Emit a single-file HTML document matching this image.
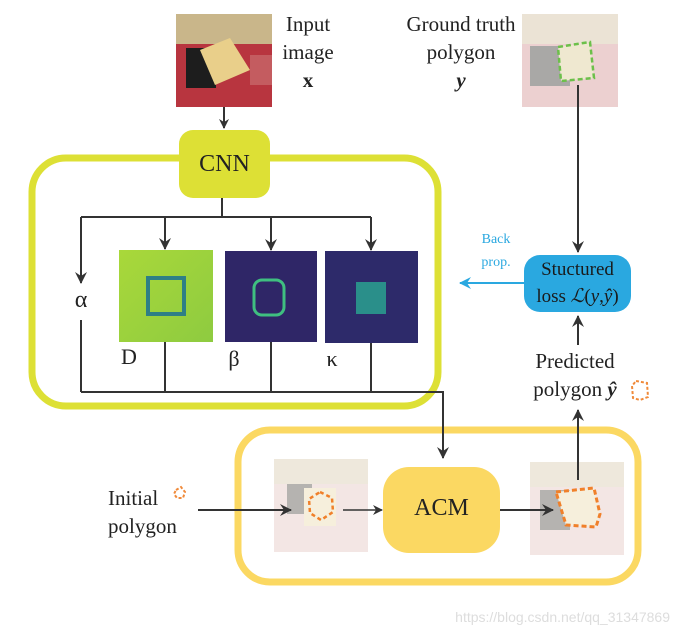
<!DOCTYPE html>
<html><head><meta charset="utf-8"><style>
html,body{margin:0;padding:0;background:#fff;}
body{width:676px;height:635px;position:relative;overflow:hidden;font-family:"Liberation Serif",serif;color:#222;}
.t{position:absolute;font-size:21px;line-height:28px;text-align:center;white-space:nowrap;}
</style></head><body>
<svg width="676" height="635" style="position:absolute;left:0;top:0">
<defs>
<marker id="a" markerWidth="10" markerHeight="10" refX="9" refY="5" orient="auto" markerUnits="userSpaceOnUse"><path d="M0,0 L10,5 L0,10 L3,5 z" fill="#333"/></marker>
<marker id="ab" markerWidth="12" markerHeight="12" refX="11" refY="6" orient="auto" markerUnits="userSpaceOnUse"><path d="M0,0 L12,6 L0,12 L4,6 z" fill="#333"/></marker>
<marker id="bl" markerWidth="12" markerHeight="12" refX="11" refY="6" orient="auto" markerUnits="userSpaceOnUse"><path d="M0,0 L12,6 L0,12 L4,6 z" fill="#2aa8e0"/></marker>
<linearGradient id="gD" x1="0" y1="0" x2="1" y2="1"><stop offset="0" stop-color="#a9d83a"/><stop offset="1" stop-color="#8ecb40"/></linearGradient>
</defs>
<!-- frames -->
<rect x="32" y="158" width="406" height="248" rx="34" fill="none" stroke="#dde035" stroke-width="7"/>
<rect x="238" y="430" width="400" height="152" rx="32" fill="none" stroke="#fbd862" stroke-width="7"/>
<!-- input image -->
<rect x="176" y="14" width="96" height="93" fill="#b8353f"/>
<rect x="176" y="14" width="96" height="30" fill="#c9b68a"/>
<rect x="186" y="48" width="30" height="40" fill="#1d1d1d"/>
<polygon points="200,50 230,38 250,70 215,85" fill="#e9cf8a"/>
<rect x="250" y="55" width="22" height="30" fill="#c77" opacity=".6"/>
<!-- GT image -->
<rect x="522" y="14" width="96" height="93" fill="#ecd0d0"/>
<rect x="522" y="14" width="96" height="30" fill="#ebe3d5"/>
<rect x="530" y="46" width="40" height="40" fill="#a9a8a6"/>
<polygon points="558,47 590,42 594,78 561,81" fill="#efe8d0" stroke="#6cc04a" stroke-width="2.5" stroke-dasharray="5,3"/>
<!-- CNN -->
<rect x="179" y="130" width="91" height="68" rx="14" fill="#dde035"/>
<line x1="224" y1="107" x2="224" y2="128" stroke="#333" stroke-width="2" marker-end="url(#a)"/>
<polyline points="222,198 222,217" fill="none" stroke="#333" stroke-width="2"/>
<polyline points="81,217 371,217" fill="none" stroke="#333" stroke-width="2"/>
<line x1="81" y1="217" x2="81" y2="283" stroke="#333" stroke-width="2" marker-end="url(#ab)"/>
<line x1="165" y1="217" x2="165" y2="249" stroke="#333" stroke-width="2" marker-end="url(#ab)"/>
<line x1="271" y1="217" x2="271" y2="250" stroke="#333" stroke-width="2" marker-end="url(#ab)"/>
<line x1="371" y1="217" x2="371" y2="250" stroke="#333" stroke-width="2" marker-end="url(#ab)"/>
<!-- maps -->
<rect x="119" y="250" width="94" height="92" fill="url(#gD)"/>
<rect x="148" y="278" width="36" height="36" fill="none" stroke="#2e7f86" stroke-width="4"/>
<rect x="225" y="251" width="92" height="91" fill="#2f2667"/>
<rect x="254" y="280" width="30" height="35" rx="8" fill="none" stroke="#3fbf80" stroke-width="3"/>
<rect x="325" y="251" width="93" height="92" fill="#2d2a6a"/>
<rect x="356" y="282" width="30" height="32" fill="#2a8f8a"/>
<!-- bottom bus -->
<line x1="81" y1="320" x2="81" y2="392" stroke="#333" stroke-width="2"/>
<line x1="165" y1="342" x2="165" y2="392" stroke="#333" stroke-width="2"/>
<line x1="271" y1="342" x2="271" y2="392" stroke="#333" stroke-width="2"/>
<line x1="371" y1="343" x2="371" y2="392" stroke="#333" stroke-width="2"/>
<polyline points="81,392 443,392 443,458" fill="none" stroke="#333" stroke-width="2" marker-end="url(#ab)"/>
<!-- GT to loss -->
<line x1="578" y1="85" x2="578" y2="252" stroke="#333" stroke-width="2" marker-end="url(#ab)"/>
<rect x="524" y="255" width="107" height="57" rx="16" fill="#2aa8e0"/>
<line x1="524" y1="283" x2="460" y2="283" stroke="#2aa8e0" stroke-width="2" marker-end="url(#bl)"/>
<line x1="578" y1="345" x2="578" y2="316" stroke="#333" stroke-width="2" marker-end="url(#ab)"/>
<polygon points="636,381 647,383 648,397 640,400 633,398 632,386" fill="none" stroke="#f08a3a" stroke-width="2" stroke-dasharray="3,2"/>
<!-- bottom flow -->
<polygon points="176,490 181,487 185,492 183,498 177,498 174,494" fill="none" stroke="#f08a3a" stroke-width="2" stroke-dasharray="3,2"/>
<rect x="274" y="459" width="94" height="93" fill="#f3e6e4"/>
<rect x="274" y="459" width="94" height="25" fill="#eee8dc"/>
<rect x="287" y="484" width="25" height="30" fill="#b5b3b0"/>
<rect x="304" y="488" width="32" height="38" fill="#f6efdc"/>
<polygon points="320,492 332,498 333,512 321,520 310,513 309,499" fill="none" stroke="#f0802a" stroke-width="2.5" stroke-dasharray="4,3"/>
<line x1="198" y1="510" x2="291" y2="510" stroke="#333" stroke-width="2" marker-end="url(#ab)"/>
<line x1="343" y1="510" x2="382" y2="510" stroke="#333" stroke-width="1.5" marker-end="url(#a)"/>
<rect x="383" y="467" width="117" height="86" rx="26" fill="#fbd862"/>
<rect x="530" y="462" width="94" height="93" fill="#f3e6e4"/>
<rect x="530" y="462" width="94" height="25" fill="#eee8dc"/>
<rect x="540" y="490" width="30" height="40" fill="#b5b3b0"/>
<polygon points="556,492 594,488 600,514 596,527 566,525" fill="#f6efdc" stroke="#f0802a" stroke-width="3" stroke-dasharray="5,3"/>
<line x1="500" y1="510" x2="553" y2="510" stroke="#333" stroke-width="2" marker-end="url(#ab)"/>
<line x1="578" y1="480" x2="578" y2="410" stroke="#333" stroke-width="2" marker-end="url(#ab)"/>
</svg>
<div class="t" style="left:278px;top:10px;width:60px;">Input<br>image<br><b>x</b></div>
<div class="t" style="left:393px;top:10px;width:136px;">Ground truth<br>polygon<br><b><i>y</i></b></div>
<div class="t" style="left:179px;top:150px;width:91px;font-size:24px;">CNN</div>
<div class="t" style="left:68px;top:286px;width:26px;font-size:24px;">α</div>
<div class="t" style="left:116px;top:343px;width:26px;font-size:22px;">D</div>
<div class="t" style="left:222px;top:345px;width:24px;font-size:22px;">β</div>
<div class="t" style="left:320px;top:345px;width:24px;font-size:22px;">κ</div>
<div class="t" style="left:466px;top:228px;width:60px;font-size:14px;line-height:23px;color:#2aa8e0;">Back<br>prop.</div>
<div class="t" style="left:524px;top:257px;width:107px;font-size:19px;line-height:26px;color:#1a1a1a;">Stuctured<br>loss <i style="font-family:'DejaVu Serif',serif;">ℒ</i>(<i>y</i>,<i>ŷ</i>)</div>
<div class="t" style="left:520px;top:347px;width:110px;">Predicted<br>polygon <b><i>ŷ</i></b></div>
<div class="t" style="left:108px;top:484px;width:72px;text-align:left;">Initial<br>polygon</div>
<div class="t" style="left:383px;top:494px;width:117px;font-size:24px;">ACM</div>
<div class="t" style="left:420px;top:603px;width:250px;font-family:'Liberation Sans',sans-serif;font-size:14px;color:#ddd;text-align:right;">https://blog.csdn.net/qq_31347869</div>
</body></html>
